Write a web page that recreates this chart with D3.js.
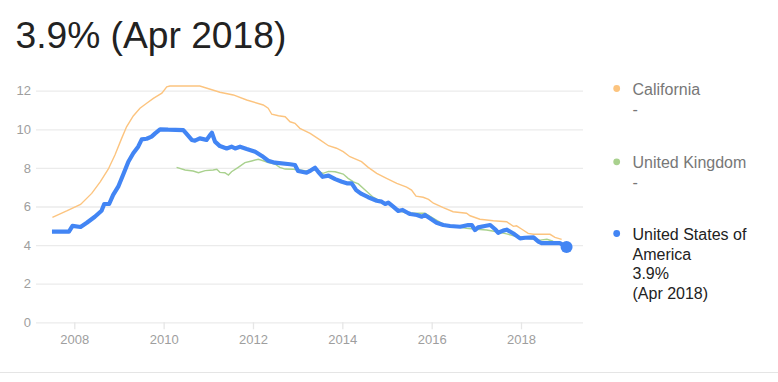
<!DOCTYPE html>
<html>
<head>
<meta charset="utf-8">
<script src="https://cdn.jsdelivr.net/npm/d3@7"></script>
<style>
  body { margin: 0; background: #fff; }
  svg { display: block; font-family: Arial, "Liberation Sans", sans-serif; }
</style>
</head>
<body>
<div id="chart"></div>
<script>
// values: [decimal year, unemployment %]
const usData = [
  [2007.50, 4.7], [2007.88, 4.7], [2007.96, 5.0], [2008.14, 4.94], [2008.28, 5.16],
  [2008.46, 5.47], [2008.61, 5.78], [2008.67, 6.13], [2008.78, 6.13], [2008.87, 6.6],
  [2008.99, 7.06], [2009.10, 7.68], [2009.21, 8.32], [2009.32, 8.76], [2009.43, 9.1],
  [2009.51, 9.48], [2009.62, 9.51], [2009.73, 9.62], [2009.81, 9.79], [2009.92, 10.0],
  [2010.10, 9.98], [2010.44, 9.96], [2010.50, 9.8], [2010.63, 9.45], [2010.70, 9.41],
  [2010.81, 9.53], [2010.96, 9.45], [2011.04, 9.7], [2011.08, 9.82], [2011.15, 9.36],
  [2011.26, 9.13], [2011.41, 9.01], [2011.52, 9.1], [2011.60, 9.01], [2011.71, 9.1],
  [2011.86, 8.98], [2012.05, 8.84], [2012.20, 8.62], [2012.34, 8.37], [2012.49, 8.27],
  [2012.83, 8.19], [2012.94, 8.15], [2013.01, 7.84], [2013.20, 7.75], [2013.29, 7.86],
  [2013.39, 8.01], [2013.46, 7.8], [2013.56, 7.54], [2013.69, 7.6], [2013.84, 7.42],
  [2013.99, 7.28], [2014.10, 7.2], [2014.21, 7.2], [2014.31, 6.85], [2014.43, 6.65],
  [2014.58, 6.48], [2014.77, 6.3], [2014.88, 6.25], [2014.96, 6.13], [2015.03, 6.2],
  [2015.14, 5.99], [2015.25, 5.77], [2015.35, 5.82], [2015.48, 5.65], [2015.52, 5.61],
  [2015.67, 5.56], [2015.78, 5.47], [2015.85, 5.56], [2015.96, 5.39], [2016.11, 5.16],
  [2016.26, 5.04], [2016.41, 4.99], [2016.64, 4.95], [2016.82, 5.04], [2016.90, 5.04],
  [2016.97, 4.78], [2017.04, 4.92], [2017.19, 4.99], [2017.31, 5.04], [2017.42, 4.82],
  [2017.49, 4.64], [2017.60, 4.75], [2017.68, 4.8], [2017.83, 4.6], [2017.98, 4.35],
  [2018.09, 4.38], [2018.28, 4.4], [2018.39, 4.18], [2018.46, 4.1], [2018.87, 4.1],
  [2019.02, 3.9]
];

const californiaData = [
  [2007.51, 5.44], [2007.83, 5.77], [2008.14, 6.11], [2008.39, 6.68], [2008.58, 7.28],
  [2008.76, 7.93], [2008.91, 8.67], [2009.06, 9.53], [2009.17, 10.13], [2009.32, 10.69],
  [2009.47, 11.09], [2009.62, 11.35], [2009.77, 11.6], [2009.96, 11.87], [2010.07, 12.2],
  [2010.14, 12.24], [2010.81, 12.24], [2011.26, 11.92], [2011.56, 11.78], [2011.86, 11.52],
  [2012.23, 11.26], [2012.34, 11.09], [2012.42, 10.78], [2012.57, 10.7], [2012.72, 10.65],
  [2012.83, 10.39], [2012.94, 10.31], [2013.05, 10.05], [2013.28, 9.79], [2013.50, 9.45],
  [2013.69, 9.15], [2013.87, 9.02], [2014.02, 8.84], [2014.17, 8.58], [2014.43, 8.32],
  [2014.58, 8.03], [2014.77, 7.72], [2014.99, 7.46], [2015.22, 7.2], [2015.44, 7.0],
  [2015.55, 6.85], [2015.65, 6.54], [2015.81, 6.48], [2015.93, 6.37], [2016.04, 6.17],
  [2016.26, 5.94], [2016.48, 5.73], [2016.78, 5.65], [2016.86, 5.52], [2017.08, 5.34],
  [2017.38, 5.26], [2017.68, 5.21], [2017.83, 4.97], [2017.90, 5.0], [2018.02, 4.82],
  [2018.16, 4.61], [2018.28, 4.56], [2018.65, 4.56], [2018.76, 4.4], [2018.91, 4.3]
];

const ukData = [
  [2010.29, 8.03], [2010.48, 7.89], [2010.66, 7.84], [2010.78, 7.75], [2010.93, 7.86],
  [2011.11, 7.89], [2011.19, 7.93], [2011.26, 7.77], [2011.37, 7.75], [2011.45, 7.63],
  [2011.52, 7.8], [2011.67, 8.03], [2011.82, 8.27], [2011.97, 8.36], [2012.12, 8.45],
  [2012.23, 8.37], [2012.34, 8.27], [2012.49, 8.2], [2012.60, 8.03], [2012.72, 7.94],
  [2012.90, 7.93], [2013.05, 7.89], [2013.20, 7.84], [2013.35, 7.93], [2013.57, 7.72],
  [2013.69, 7.82], [2013.84, 7.8], [2014.02, 7.68], [2014.13, 7.46], [2014.25, 7.28],
  [2014.36, 7.17], [2014.51, 6.85], [2014.69, 6.48], [2014.84, 6.3], [2015.07, 6.08],
  [2015.33, 5.73], [2015.44, 5.65], [2015.85, 5.65], [2016.04, 5.39], [2016.26, 5.09],
  [2016.48, 4.99], [2016.78, 4.87], [2017.01, 4.82], [2017.23, 4.78], [2017.46, 4.69],
  [2017.68, 4.58], [2017.90, 4.44], [2018.13, 4.35], [2018.43, 4.26], [2018.58, 4.3],
  [2018.72, 4.2]
];

const yTicks = [0, 2, 4, 6, 8, 10, 12];
const xTicks = [2008, 2010, 2012, 2014, 2016, 2018];
const headline = "3.9% (Apr 2018)";

const legendItems = [
  { name: "California", lines: ["California", "-"], color: "#fcc47f", text: "#777" },
  { name: "United Kingdom", lines: ["United Kingdom", "-"], color: "#a9d18e", text: "#777" },
  { name: "United States of America", lines: ["United States of", "America", "3.9%", "(Apr 2018)"], color: "#4285f4", text: "#222" }
];

const width = 778, height = 382;

const svg = d3.select("#chart").append("svg")
  .attr("width", width)
  .attr("height", height);

// headline
svg.append("text")
  .attr("x", 15.5)
  .attr("y", 48)
  .attr("font-size", 37.2)
  .attr("fill", "#222")
  .text(headline);

const xScale = d3.scaleLinear()
  .domain([2008, 2018])
  .range([74.3, 521]);

const yScale = d3.scaleLinear()
  .domain([0, 12])
  .range([322.3, 90.7]);

const plotLeft = 36, plotRight = 583;

// horizontal gridlines + left labels
const yAxis = d3.axisLeft(yScale)
  .tickValues(yTicks)
  .tickSize(-(plotRight - plotLeft))
  .tickPadding(5)
  .tickFormat(d3.format("d"));

const yG = svg.append("g")
  .attr("transform", "translate(" + plotLeft + ",0)")
  .call(yAxis);
yG.select(".domain").remove();
yG.selectAll(".tick line").attr("stroke", "#ebebeb").attr("stroke-width", 1.3);
yG.selectAll(".tick text")
  .attr("fill", "#9e9e9e")
  .attr("font-size", 13)
  .attr("font-family", "Arial, 'Liberation Sans', sans-serif");

// bottom axis
const xAxis = d3.axisBottom(xScale)
  .tickValues(xTicks)
  .tickSize(7)
  .tickPadding(5)
  .tickFormat(d3.format("d"));

const xG = svg.append("g")
  .attr("transform", "translate(0," + yScale(0) + ")")
  .call(xAxis);
xG.select(".domain").remove();
xG.selectAll(".tick line").attr("stroke", "#e6e6e6").attr("stroke-width", 1.3);
xG.selectAll(".tick text")
  .attr("fill", "#9e9e9e")
  .attr("font-size", 13)
  .attr("font-family", "Arial, 'Liberation Sans', sans-serif");

// lines
const line = d3.line()
  .x(d => xScale(d[0]))
  .y(d => yScale(d[1]));

svg.append("path")
  .datum(californiaData)
  .attr("d", line)
  .attr("fill", "none")
  .attr("stroke", legendItems[0].color)
  .attr("stroke-width", 1.4);

svg.append("path")
  .datum(ukData)
  .attr("d", line)
  .attr("fill", "none")
  .attr("stroke", legendItems[1].color)
  .attr("stroke-width", 1.4);

svg.append("path")
  .datum(usData)
  .attr("d", line)
  .attr("fill", "none")
  .attr("stroke", legendItems[2].color)
  .attr("stroke-width", 4.2)
  .attr("stroke-linejoin", "round");

// latest value marker
const last = usData[usData.length - 1];
svg.append("circle")
  .attr("cx", xScale(last[0]))
  .attr("cy", yScale(last[1]))
  .attr("r", 6)
  .attr("fill", legendItems[2].color);

// legend
const legendTop = [95, 168.3, 240];
const lineH = 19.5;
legendItems.forEach((item, i) => {
  const g = svg.append("g");
  g.append("circle")
    .attr("cx", 616.7)
    .attr("cy", legendTop[i] - 6.5)
    .attr("r", 3.4)
    .attr("fill", item.color);
  g.selectAll("text")
    .data(item.lines)
    .enter()
    .append("text")
    .attr("x", 632.5)
    .attr("y", (d, j) => legendTop[i] + j * lineH)
    .attr("font-size", 16)
    .attr("fill", item.text)
    .text(d => d);
});

// bottom separator
svg.append("line")
  .attr("x1", 0).attr("x2", width)
  .attr("y1", 372.5).attr("y2", 372.5)
  .attr("stroke", "#e5e5e5")
  .attr("stroke-width", 1);
</script>
</body>
</html>
